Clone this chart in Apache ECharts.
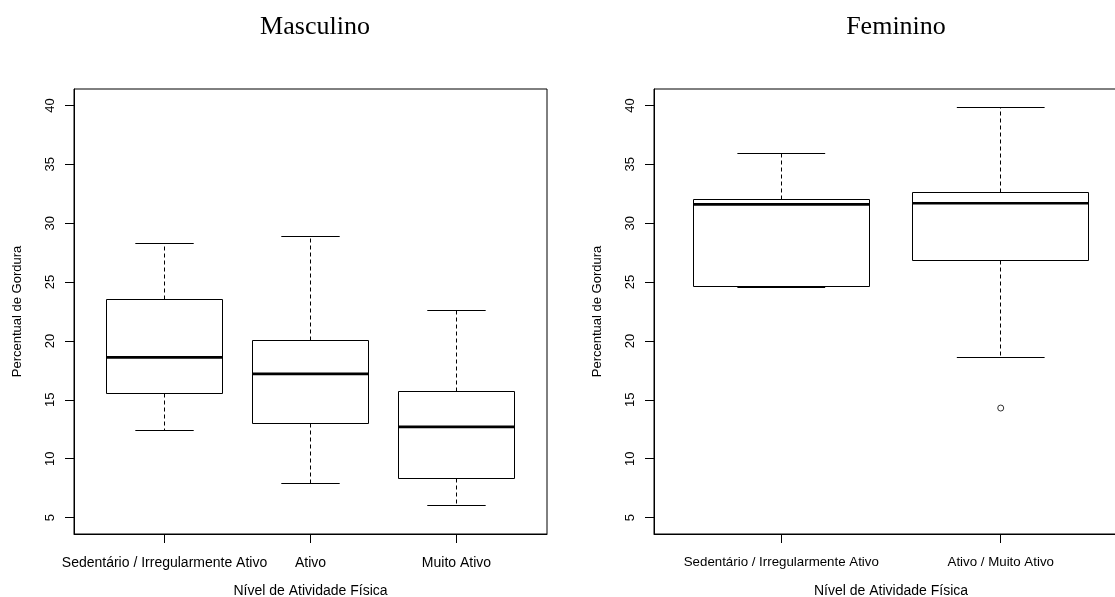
<!DOCTYPE html>
<html>
<head>
<meta charset="utf-8">
<script src="https://cdn.jsdelivr.net/npm/echarts@6/dist/echarts.min.js"></script>
<style>
html,body{margin:0;padding:0;background:#fff;}
#chart{width:1115px;height:597px;}
</style>
</head>
<body>
<div id="chart"></div>
<script>
// ---- Data ----
const yTicks = [5, 10, 15, 20, 25, 30, 35, 40];

const mascCategories = ['Sedentário / Irregularmente Ativo', 'Ativo', 'Muito Ativo'];
const mascLower  = [12.4, 7.9, 6.0];
const mascQ1     = [15.5, 13.0, 8.3];
const mascMedian = [18.6, 17.2, 12.7];
const mascQ3     = [23.5, 20.0, 15.7];
const mascUpper  = [28.3, 28.9, 22.6];

const femCategories = ['Sedentário / Irregularmente Ativo', 'Ativo / Muito Ativo'];
const femLower  = [24.5, 18.6];
const femQ1     = [24.6, 26.8];
const femMedian = [31.6, 31.7];
const femQ3     = [32.0, 32.6];
const femUpper  = [35.9, 39.8];
const femOutlierGroup = [2];
const femOutlierValue = [14.3];

const titles = ['Masculino', 'Feminino'];
const xTitle = 'Nível de Atividade Física';
const yTitle = 'Percentual de Gordura';

// ---- Build ----
function crisp(v) { return Math.round(v - 0.5) + 0.5; }

function boxRender(params, api) {
  const x = api.value(0);
  const lo = api.value(1), q1 = api.value(2), med = api.value(3), q3 = api.value(4), hi = api.value(5);
  const c = (xx, yy) => api.coord([xx, yy]);
  const xc = crisp(c(x, 0)[0]);
  const capL = c(x - 0.2, 0)[0], capR = c(x + 0.2, 0)[0];
  const boxL = crisp(c(x - 0.4, 0)[0]), boxR = crisp(c(x + 0.4, 0)[0]);
  const yLo = crisp(c(x, lo)[1]), yQ1 = crisp(c(x, q1)[1]), yMed = c(x, med)[1];
  const yQ3 = crisp(c(x, q3)[1]), yHi = crisp(c(x, hi)[1]);
  const thin = { stroke: '#000', lineWidth: 1 };
  const dashed = { stroke: '#000', lineWidth: 1, lineDash: [4, 3] };
  return {
    type: 'group',
    children: [
      { type: 'line', shape: { x1: xc, y1: yQ3, x2: xc, y2: yHi }, style: dashed },
      { type: 'line', shape: { x1: xc, y1: yQ1, x2: xc, y2: yLo }, style: dashed },
      { type: 'line', shape: { x1: capL, y1: yHi, x2: capR, y2: yHi }, style: thin },
      { type: 'line', shape: { x1: capL, y1: yLo, x2: capR, y2: yLo }, style: thin },
      { type: 'rect', shape: { x: boxL, y: yQ3, width: boxR - boxL, height: yQ1 - yQ3 },
        style: { fill: '#fff', stroke: '#000', lineWidth: 1 } },
      { type: 'line', shape: { x1: boxL, y1: yMed, x2: boxR, y2: yMed },
        style: { stroke: '#000', lineWidth: 2.6 } }
    ]
  };
}

const font = 'Liberation Sans';

function makeXAxis(gridIndex, min, max, cats, labelSize) {
  const vals = cats.map((c, i) => i + 1);
  return {
    gridIndex: gridIndex, type: 'value', min: min, max: max,
    axisLine: { show: true, onZero: false, lineStyle: { color: '#000', width: 1 } },
    splitLine: { show: false },
    axisTick: { show: true, inside: false, length: 9, customValues: vals, lineStyle: { color: '#000', width: 1 } },
    axisLabel: { customValues: vals, color: '#000', fontFamily: font, fontSize: labelSize, margin: 22,
      formatter: v => cats[Math.round(v) - 1] || '' },
    name: xTitle, nameLocation: 'middle', nameGap: 50,
    nameTextStyle: { color: '#000', fontFamily: font, fontSize: 14 }
  };
}
function makeYAxis(gridIndex) {
  return {
    gridIndex: gridIndex, type: 'value', min: 3.6, max: 41.4,
    axisLine: { show: true, lineStyle: { color: '#000', width: 1 } },
    splitLine: { show: false },
    axisTick: { show: true, inside: false, length: 9, customValues: yTicks, lineStyle: { color: '#000', width: 1 } },
    axisLabel: { customValues: yTicks, rotate: 90, color: '#000', fontFamily: font, fontSize: 13, margin: 17 },
    name: yTitle, nameLocation: 'middle', nameGap: 50,
    nameTextStyle: { color: '#000', fontFamily: font, fontSize: 13 }
  };
}

const mascData = mascCategories.map((c, i) => [i + 1, mascLower[i], mascQ1[i], mascMedian[i], mascQ3[i], mascUpper[i]]);
const femData = femCategories.map((c, i) => [i + 1, femLower[i], femQ1[i], femMedian[i], femQ3[i], femUpper[i]]);
const femOutliers = femOutlierGroup.map((g, i) => [g, femOutlierValue[i]]);

const option = {
  animation: false,
  backgroundColor: '#fff',
  grid: [
    { left: 74, top: 89, width: 473, height: 445, show: true, borderColor: '#000', borderWidth: 1,
      backgroundColor: 'transparent', outerBoundsMode: 'none', containLabel: false },
    { left: 654, top: 89, width: 474, height: 445, show: true, borderColor: '#000', borderWidth: 1,
      backgroundColor: 'transparent', outerBoundsMode: 'none', containLabel: false }
  ],
  xAxis: [
    makeXAxis(0, 0.38, 3.62, mascCategories, 14),
    makeXAxis(1, 0.42, 2.58, femCategories, 13.3)
  ],
  yAxis: [makeYAxis(0), makeYAxis(1)],
  graphic: [
    { type: 'text', x: 315, y: 27,
      style: { text: titles[0], font: '26px "Liberation Serif"', fill: '#000', textAlign: 'center', textVerticalAlign: 'middle' } },
    { type: 'text', x: 896, y: 27,
      style: { text: titles[1], font: '26px "Liberation Serif"', fill: '#000', textAlign: 'center', textVerticalAlign: 'middle' } }
  ],
  series: [
    { type: 'custom', xAxisIndex: 0, yAxisIndex: 0, renderItem: boxRender,
      encode: { x: 0, y: [1, 2, 3, 4, 5] }, data: mascData, clip: false },
    { type: 'custom', xAxisIndex: 1, yAxisIndex: 1, renderItem: boxRender,
      encode: { x: 0, y: [1, 2, 3, 4, 5] }, data: femData, clip: false },
    { type: 'scatter', xAxisIndex: 1, yAxisIndex: 1, data: femOutliers,
      symbol: 'circle', symbolSize: 6,
      itemStyle: { color: '#fff', borderColor: '#000', borderWidth: 1 } }
  ]
};

const chart = echarts.init(document.getElementById('chart'), null, { renderer: 'canvas' });
chart.setOption(option);
</script>
</body>
</html>
